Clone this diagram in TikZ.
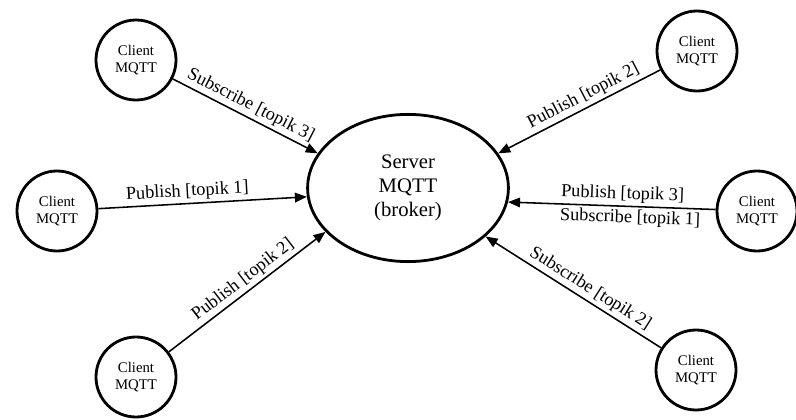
\documentclass[tikz,border=0pt]{standalone}
\usepackage{fontspec}
\setmainfont{Liberation Serif}
\usetikzlibrary{arrows.meta,positioning,shapes.geometric}
\tikzset{
 client/.style={circle,draw=black,line width=2pt,minimum size=2cm,inner sep=0pt,align=center,font=\fontsize{10.5}{12.5}\selectfont},
 broker/.style={ellipse,draw=black,line width=2pt,minimum width=5.02cm,minimum height=3.68cm,inner sep=0pt,align=center,font=\fontsize{14.7}{17}\selectfont},
 arrow/.style={-{Triangle[length=3mm,width=2.4mm]},line width=1.1pt,draw=black},
 topic/.style={sloped,font=\fontsize{13}{14}\selectfont,inner sep=2pt}}

\begin{document}
\begin{tikzpicture}
\useasboundingbox (0,0) rectangle (19.9,10.475);
\node[broker] (server) at (10.2,5.775) {Server\\MQTT\\(broker)};
\node[client] (tl) at (3.4,8.975) {Client\\MQTT};
\node[client] (tr) at (17.425,9.2) {Client\\MQTT};
\node[client] (l) at (1.425,5.2) {Client\\MQTT};
\node[client] (r) at (18.925,5.2) {Client\\MQTT};
\node[client] (bl) at (3.4,1.05) {Client\\MQTT};
\node[client] (br) at (17.4,1.225) {Client\\MQTT};
\draw[arrow] (tl) -- node[topic,above]{Subscribe [topik 3]} (server.159);
\draw[arrow] (tr) -- node[topic,above,pos=0.44]{Publish [topik 2]} (server.21);
\draw[arrow] (l) -- node[topic,above,pos=0.43]{Publish [topik 1]} (server.185);
\draw[arrow] (r) -- node[topic,above,pos=0.45]{Publish [topik 3]} node[topic,below,pos=0.41]{Subscribe [topik 1]} (server.352);
\draw[arrow] (bl) -- node[topic,above,pos=0.52]{Publish [topik 2]} (server.208);
\draw[arrow] (br) -- node[topic,above,pos=0.44]{Subscribe [topik 2]} (server.328);
\end{tikzpicture}
\end{document}
